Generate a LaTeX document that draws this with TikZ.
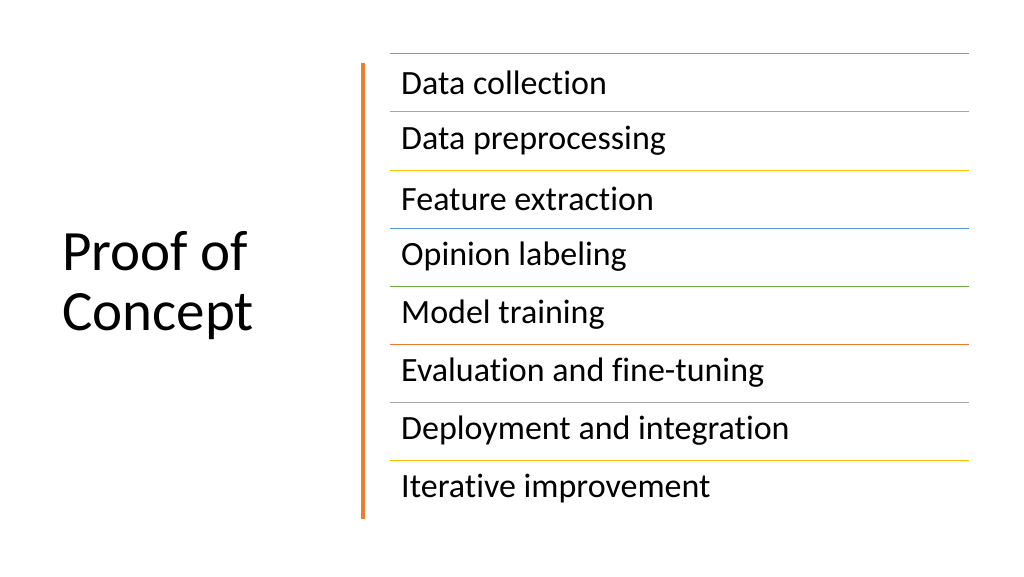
\documentclass[tikz,border=0pt]{standalone}
\usepackage{fontspec}
\setmainfont{Carlito}[Ligatures=NoCommon]
\usepackage{tikz}
\usetikzlibrary{positioning}

\definecolor{cOrange}{HTML}{ED7D31}
\definecolor{cGray}{HTML}{A5A5A5}
\definecolor{cGold}{HTML}{FFC000}
\definecolor{cBlue}{HTML}{5B9BD5}
\definecolor{cGreen}{HTML}{70AD47}

\tikzset{
  item/.style={anchor=west, font=\fontsize{34}{36}\selectfont, inner sep=0pt},
  sep/.style={line width=1pt}
}

\begin{document}
\begin{tikzpicture}[x=1pt, y=-1pt]
\useasboundingbox (0,0) rectangle (1024,576);

\node[anchor=west, align=left, inner sep=0pt, font=\fontsize{57}{60}\selectfont] (title) at (62,286) {Proof of\\Concept};
\draw[cOrange, line width=4pt] (363,63) -- (363,519);

% separators and items
\foreach \yy/\col in {53/cOrange, 111/cGray, 170/cGold, 228/cBlue, 286/cGreen, 344/cOrange, 402/cGray, 460/cGold}
  \draw[sep, color=\col] (390,\yy) -- (969,\yy);

\node[item] (i1) at (401,83) {Data collection};
\node[item] (i2) at (401,141) {Data preprocessing};
\node[item] (i3) at (401,199) {Feature extraction};
\node[item] (i4) at (401,257) {Opinion labeling};
\node[item] (i5) at (401,315) {Model training};
\node[item] (i6) at (401,373) {Evaluation and fine-tuning};
\node[item] (i7) at (401,431) {Deployment and integration};
\node[item] (i8) at (401,489) {Iterative improvement};
\end{tikzpicture}
\end{document}
